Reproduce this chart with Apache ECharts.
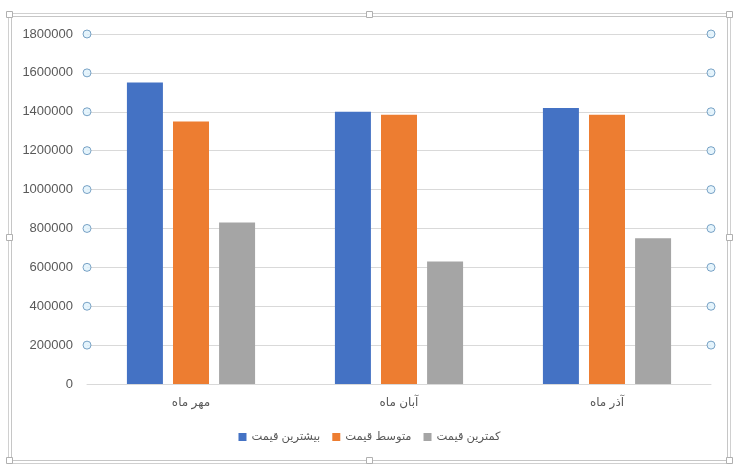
<!DOCTYPE html>
<html>
<head>
<meta charset="utf-8">
<script src="https://cdn.jsdelivr.net/npm/echarts@6/dist/echarts.min.js"></script>
<style>
html,body{margin:0;padding:0;background:#fff;}
#main{width:739px;height:472px;}
</style>
</head>
<body>
<div id="main"></div>
<script>
// داده ها
const months = ['مهر ماه', 'آبان ماه', 'آذر ماه'];
const seriesNames = ['بیشترین قیمت', 'متوسط قیمت', 'کمترین قیمت'];
const maxPrice = [1550000, 1400000, 1420000];
const avgPrice = [1350000, 1385000, 1385000];
const minPrice = [830000, 630000, 750000];
const gridMarks = [200000, 400000, 600000, 800000, 1000000, 1200000, 1400000, 1600000, 1800000];

const colors = ['#4472C4', '#ED7D31', '#A5A5A5'];
const font = 'Liberation Sans, Arial, DejaVu Sans, sans-serif';

const myChart = echarts.init(document.getElementById('main'));

// circles on both ends of gridlines
let markPts = [];
gridMarks.forEach(function (v) {
    markPts.push([0, v]);
    markPts.push([1, v]);
});

function bar(name, data, color) {
    return {
        name: name,
        type: 'bar',
        data: data,
        barWidth: 36,
        barGap: '28%',
        itemStyle: {color: color},
        animation: false
    };
}

const option = {
    animation: false,
    grid: {left: 87, right: 28, top: 34, bottom: 88, containLabel: false},
    legend: {
        bottom: 24,
        left: 'center',
        itemWidth: 8,
        itemHeight: 8,
        itemGap: 12,
        icon: 'rect',
        textStyle: {fontFamily: font, fontSize: 11.5, color: '#595959'},
        data: seriesNames
    },
    xAxis: [{
        type: 'category',
        data: months,
        axisLine: {lineStyle: {color: '#d9d9d9'}},
        axisTick: {show: false},
        axisLabel: {fontFamily: font, fontSize: 12, color: '#595959', margin: 13}
    }, {
        type: 'value',
        min: 0,
        max: 1,
        show: false
    }],
    yAxis: {
        type: 'value',
        min: 0,
        max: 1800000,
        interval: 200000,
        axisLine: {show: false},
        axisTick: {show: false},
        axisLabel: {
            fontFamily: font, fontSize: 13, color: '#595959', margin: 14,
            formatter: function (v) { return String(v); }
        },
        splitLine: {lineStyle: {color: '#d9d9d9'}}
    },
    series: [
        bar(seriesNames[0], maxPrice, colors[0]),
        bar(seriesNames[1], avgPrice, colors[1]),
        bar(seriesNames[2], minPrice, colors[2]),
        {
            type: 'scatter',
            xAxisIndex: 1,
            data: markPts,
            symbol: 'circle',
            symbolSize: 8,
            clip: false,
            silent: true,
            itemStyle: {color: '#dff1fb', borderColor: '#5b8db8', borderWidth: 1}
        }
    ],
    graphic: [
        {type: 'rect', shape: {x: 8.5, y: 13.5, width: 722, height: 450}, style: {fill: 'none', stroke: '#d0d0d0', lineWidth: 1}, silent: true},
        {type: 'rect', shape: {x: 11.5, y: 16.5, width: 716, height: 444}, style: {fill: 'none', stroke: '#c6c6c6', lineWidth: 1}, silent: true},
        {type: 'rect', shape: {x: 6.5, y: 11.5, width: 6, height: 6}, style: {fill: '#fff', stroke: '#b0b0b0'}, silent: true},
        {type: 'rect', shape: {x: 366.5, y: 11.5, width: 6, height: 6}, style: {fill: '#fff', stroke: '#b0b0b0'}, silent: true},
        {type: 'rect', shape: {x: 726.5, y: 11.5, width: 6, height: 6}, style: {fill: '#fff', stroke: '#b0b0b0'}, silent: true},
        {type: 'rect', shape: {x: 6.5, y: 234.5, width: 6, height: 6}, style: {fill: '#fff', stroke: '#b0b0b0'}, silent: true},
        {type: 'rect', shape: {x: 726.5, y: 234.5, width: 6, height: 6}, style: {fill: '#fff', stroke: '#b0b0b0'}, silent: true},
        {type: 'rect', shape: {x: 6.5, y: 457.5, width: 6, height: 6}, style: {fill: '#fff', stroke: '#b0b0b0'}, silent: true},
        {type: 'rect', shape: {x: 366.5, y: 457.5, width: 6, height: 6}, style: {fill: '#fff', stroke: '#b0b0b0'}, silent: true},
        {type: 'rect', shape: {x: 726.5, y: 457.5, width: 6, height: 6}, style: {fill: '#fff', stroke: '#b0b0b0'}, silent: true}
    ]
};
myChart.setOption(option);
</script>
</body>
</html>
